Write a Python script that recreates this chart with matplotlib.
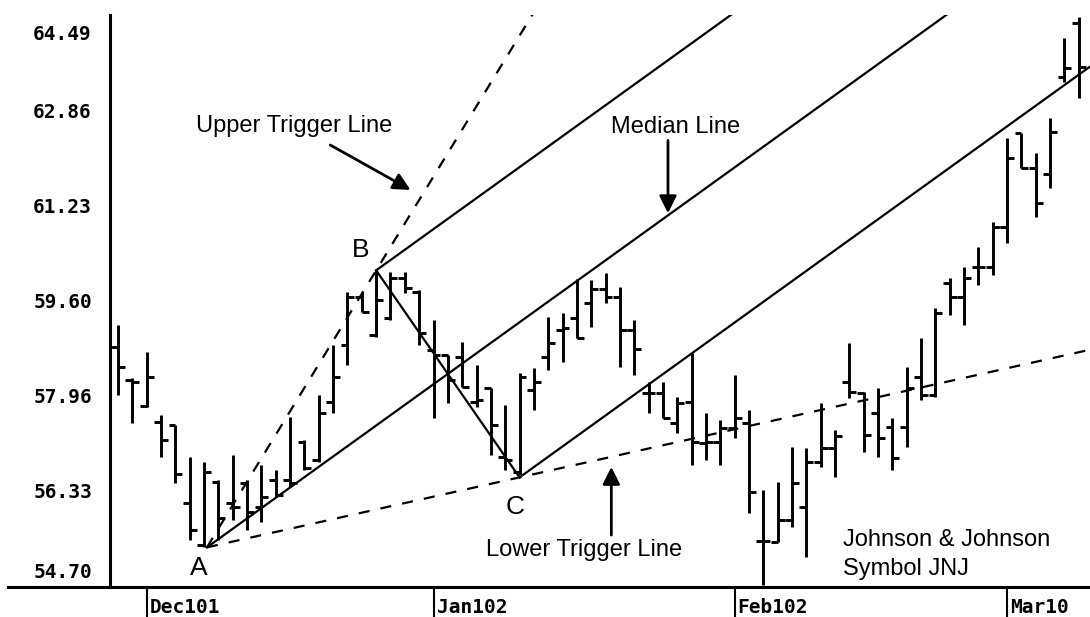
import matplotlib
matplotlib.use("Agg")
import numpy as np
import matplotlib.pyplot as plt
from matplotlib.lines import Line2D
from matplotlib.transforms import ScaledTranslation

# JNJ daily bars, one per trading day (index 0 = 29 Nov 2001)
opens = [58.79, 58.23, 57.78, 57.51, 57.46, 56.12, 55.40, 56.48, 56.12, 56.46,
         56.05, 56.51, 56.51, 57.16, 56.86, 57.85, 58.83, 59.65, 59.00, 59.29,
         59.98, 59.74, 58.74, 58.66, 58.62, 57.85, 58.09, 56.91, 56.65, 58.06,
         58.62, 59.09, 59.29, 59.55, 59.79, 59.65, 59.09, 58.00, 58.00, 57.49,
         57.85, 57.15, 57.16, 57.40, 57.49, 55.47, 55.45, 55.83, 56.05, 56.82,
         57.06, 58.19, 58.00, 57.66, 57.42, 57.42, 58.28, 57.97, 59.89, 59.65,
         60.17, 60.17, 60.85, 62.46, 61.86, 61.76, 63.43, 64.35]
highs = [59.17, 58.26, 58.71, 57.63, 57.46, 56.91, 56.82, 56.51, 56.94, 56.51,
         56.77, 56.68, 57.59, 57.20, 57.97, 58.83, 59.74, 59.74, 60.11, 60.08,
         60.08, 59.77, 59.26, 58.66, 58.88, 58.49, 58.09, 57.80, 58.35, 58.43,
         59.31, 59.38, 59.96, 59.94, 60.06, 59.82, 59.26, 58.19, 58.19, 57.94,
         58.69, 57.66, 57.54, 58.31, 57.71, 56.34, 56.48, 57.08, 57.06, 57.83,
         57.37, 58.86, 58.02, 58.09, 57.58, 58.45, 58.95, 59.46, 59.98, 60.17,
         60.51, 60.94, 62.38, 62.46, 62.12, 62.72, 64.09, 64.45]
lows = [57.97, 57.49, 57.76, 56.91, 56.46, 55.48, 55.36, 55.48, 55.83, 55.65,
        55.79, 56.22, 56.39, 56.68, 56.82, 57.66, 58.49, 59.39, 58.97, 59.26,
        59.72, 58.83, 57.58, 57.83, 58.11, 57.76, 56.94, 56.68, 56.60, 57.71,
        58.40, 58.54, 58.95, 59.14, 59.55, 58.45, 58.31, 57.66, 57.58, 57.32,
        56.77, 56.86, 56.77, 57.23, 55.95, 54.71, 55.45, 55.71, 55.19, 56.74,
        56.56, 57.92, 56.99, 56.91, 56.68, 57.08, 57.88, 57.94, 59.34, 59.17,
        59.86, 60.03, 60.58, 61.86, 61.02, 61.52, 63.34, 63.07]
closes = [58.45, 58.19, 58.28, 57.20, 56.62, 55.65, 56.65, 55.86, 56.05, 55.96,
          56.22, 56.26, 56.46, 56.72, 57.66, 58.28, 59.65, 59.39, 59.60, 59.98,
          59.81, 59.03, 58.66, 58.23, 58.11, 57.88, 57.46, 56.86, 58.28, 58.19,
          58.86, 59.12, 58.95, 59.79, 59.65, 59.09, 58.76, 58.00, 57.58, 57.83,
          57.16, 57.16, 57.40, 57.58, 56.31, 55.47, 55.83, 56.46, 56.82, 57.06,
          57.27, 58.02, 57.28, 57.23, 56.89, 58.09, 57.97, 59.38, 59.65, 59.98,
          60.17, 60.85, 62.04, 61.86, 61.26, 62.48, 63.58, 63.60]

month_pos = [2, 22, 43, 62]
month_labels = ["Dec101", "Jan102", "Feb102", "Mar10"]
price_ticks = [54.70, 56.33, 57.96, 59.60, 61.23, 62.86, 64.49]

# pitchfork pivots (bar index, price)
pivot_a = (6.2, 55.36)
pivot_b = (18.0, 60.11)
pivot_c = (28.0, 56.56)

fig = plt.figure(figsize=(10.9, 6.17), dpi=100)
ax = fig.add_axes([110 / 1090, 30 / 617, 980 / 1090, 572 / 617])

x = np.arange(len(opens))
w = 0.48
ax.vlines(x, lows, highs, color="black", lw=2.1)
ax.hlines(opens, x - w, x, color="black", lw=2.1)
ax.hlines(closes, x, x + w, color="black", lw=2.1)


def ray(p, q, x_end=80, **kw):
    # line from p through q, carried on to x_end (clipped by the axes)
    slope = (q[1] - p[1]) / (q[0] - p[0])
    ax.plot([p[0], x_end], [p[1], p[1] + slope * (x_end - p[0])], **kw)


mid = ((pivot_b[0] + pivot_c[0]) / 2, (pivot_b[1] + pivot_c[1]) / 2)
solid = dict(color="black", lw=1.6)
dashed = dict(color="black", lw=1.6, dashes=(5, 5))

ray(pivot_a, mid, **solid)
ray(pivot_b, (pivot_b[0] + mid[0] - pivot_a[0], pivot_b[1] + mid[1] - pivot_a[1]), **solid)
ray(pivot_c, (pivot_c[0] + mid[0] - pivot_a[0], pivot_c[1] + mid[1] - pivot_a[1]), **solid)
ax.plot([pivot_b[0], pivot_c[0]], [pivot_b[1], pivot_c[1]], **solid)
ray(pivot_a, pivot_b, **dashed)
ray(pivot_a, pivot_c, **dashed)

# labels and arrows
lab = dict(fontfamily="Liberation Sans", fontsize=17, color="black")
ax.text(12.3, 62.58, "Upper Trigger Line", ha="center", va="center", **lab)
ax.text(38.9, 62.57, "Median Line", ha="center", va="center", **lab)
ax.text(32.5, 55.31, "Lower Trigger Line", ha="center", va="center", **lab)
ax.text(50.55, 55.48, "Johnson & Johnson", ha="left", va="center", **lab)
ax.text(50.55, 54.99, "Symbol JNJ", ha="left", va="center", **lab)

big = dict(fontfamily="Liberation Sans", fontsize=19, color="black", ha="center", va="center")
ax.text(5.65, 55.00, "A", **big)
ax.text(16.95, 60.46, "B", **big)
ax.text(27.7, 56.05, "C", **big)

arrow = dict(arrowstyle="-|>", color="black", lw=2.0, mutation_scale=26,
             shrinkA=0, shrinkB=0)
ax.annotate("", xy=(20.4, 61.49), xytext=(14.8, 62.26), arrowprops=arrow)
ax.annotate("", xy=(38.35, 61.09), xytext=(38.35, 62.34), arrowprops=arrow)
ax.annotate("", xy=(34.4, 56.74), xytext=(34.4, 55.57), arrowprops=arrow)

# axes
ax.set_xlim(-0.56, 67.78)
ax.set_ylim(54.68, 64.49)
ax.spines["top"].set_visible(False)
ax.spines["right"].set_visible(False)
ax.spines["left"].set_linewidth(2.2)
ax.spines["bottom"].set_linewidth(2.2)
fig.add_artist(Line2D([8 / 1090, 110 / 1090], [30 / 617, 30 / 617],
                      transform=fig.transFigure, color="black", lw=2.2))

tick_font = dict(family="DejaVu Sans Mono", weight="bold", size=14)
ax.set_yticks(price_ticks, [f"{v:.2f}" for v in price_ticks], **tick_font)
ax.tick_params(axis="y", length=0, pad=13)
ylabs = ax.get_yticklabels()
ylabs[0].set_transform(ylabs[0].get_transform() + ScaledTranslation(0, 0.15, fig.dpi_scale_trans))
ylabs[-1].set_transform(ylabs[-1].get_transform() + ScaledTranslation(0, -0.18, fig.dpi_scale_trans))

ax.set_xticks(month_pos, month_labels, **tick_font)
ax.tick_params(axis="x", direction="out", length=22, width=1.5, pad=-14)
for t in ax.get_xticklabels():
    t.set_ha("left")
    t.set_transform(t.get_transform() + ScaledTranslation(0.03, 0, fig.dpi_scale_trans))

fig.savefig("out.png", dpi=100, facecolor="white")
